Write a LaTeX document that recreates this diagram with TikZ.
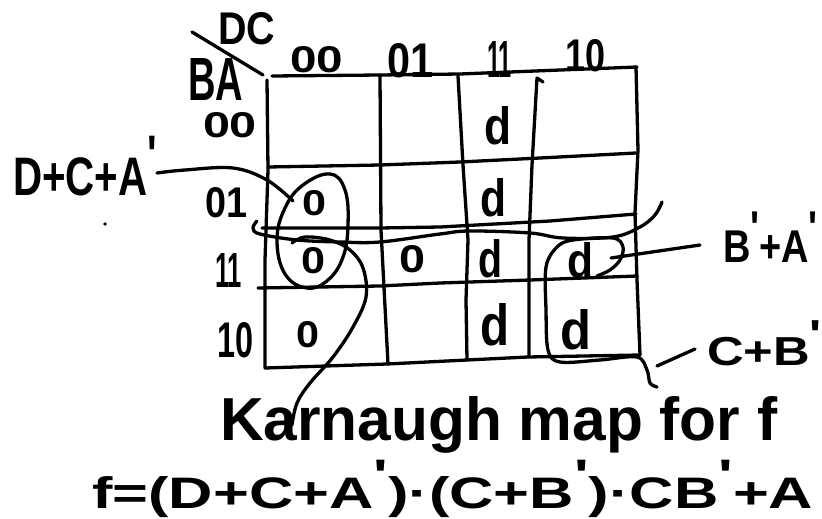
\documentclass[tikz,border=0pt]{standalone}
\usepackage{fontspec}
\usepackage{graphicx}
\newfontfamily\hwfont{Liberation Sans}
\newcommand{\hw}[3]{\resizebox{#1pt}{#2pt}{\hwfont\bfseries #3}}
\newcommand{\pr}{\raisebox{0.4em}{\textquotesingle}}
\tikzset{
  ink/.style={line width=3.3pt, line cap=round, line join=round, draw=black},
  lab/.style={inner sep=0pt, outer sep=0pt, anchor=base west},
  cell/.style={inner sep=0pt, outer sep=0pt, anchor=center}
}
\begin{document}
\begin{tikzpicture}[x=1pt,y=-1pt]
\fill[white] (0,0) rectangle (822,519);
\useasboundingbox (0,0) rectangle (822,519);

% grid
\draw[ink] (272,76) -- (380,75) -- (460,74) -- (535,71) -- (637,67);
\draw[ink] (268,167) -- (380,165) -- (460,162) -- (540,158) -- (636,153);
\draw[ink] (262,228) -- (380,228) -- (440,227) -- (550,221) -- (636,214);
\draw[ink] (258,288) -- (380,286) -- (440,283) -- (530,280) -- (637,276);
\draw[ink] (265,368) -- (387,364) -- (467,360) -- (528,357) -- (640,355);
\draw[ink] (267,80) -- (268,170) -- (265,260) -- (265,368);
\draw[ink] (380,75) -- (381,230) -- (388,364);
\draw[ink] (458,76) -- (463,165) -- (468,240) -- (466,300) -- (467,360);
\draw[ink] (543,82) -- (537,78) -- (532,165) -- (529,240) -- (529,357);
\draw[ink] (636,67) -- (638,150) -- (635,213) -- (637,280) -- (640,355);
\draw[ink] (192,32) -- (263,75);
\fill (105,224) circle (1.8);

% headers
\node[lab] (dc) at (218,45) {\hw{57}{32}{DC}};
\node[lab] (ba) at (188,100) {\hw{55}{42}{BA}};
\node[lab] (c00) at (290,73) {\hw{53}{26}{00}};
\node[lab] (c01) at (387,77) {\hw{46}{34}{01}};
\node[lab] (c11) at (487,78) {\hw{25}{36}{11}};
\node[lab] (c10) at (565,72) {\hw{40}{32}{10}};
\node[lab] (r00) at (203,137) {\hw{54}{25}{00}};
\node[lab] (r01) at (205,217) {\hw{42}{30}{01}};
\node[lab] (r11) at (215,287) {\hw{27}{34}{11}};
\node[lab] (r10) at (217,357) {\hw{36}{35}{10}};

% cells
\node[cell] (d1) at (498,126) {\hw{27}{38}{d}};
\node[cell] (z1) at (314,203) {\hw{24}{25}{0}};
\node[cell] (d2) at (493,198) {\hw{26}{38}{d}};
\node[cell] (z2) at (313,261) {\hw{24}{26}{0}};
\node[cell] (z3) at (412,259) {\hw{26}{27}{0}};
\node[cell] (d3) at (490,259) {\hw{24}{38}{d}};
\node[cell] (d4) at (580,260) {\hw{26}{35}{d}};
\node[cell] (z4) at (308,335) {\hw{23}{26}{0}};
\node[cell] (d5) at (495,325) {\hw{29}{42}{d}};
\node[cell] (d6) at (576,330) {\hw{31}{40}{d}};

% loops
\draw[ink] plot[smooth cycle, tension=0.7] coordinates {(330,174) (345,190) (348,225) (343,257) (328,280) (307,288) (285,274) (277,240) (285,208) (303,185)};
\draw[ink] plot[smooth, tension=0.6] coordinates {(292,243) (305,237) (330,240) (350,250) (363,268) (366,297) (353,327) (333,357) (310,383) (297,403) (292,425)};
\draw[ink] plot[smooth, tension=0.6] coordinates {(257,221) (253,228) (260,234) (297,240) (340,242) (380,242) (440,234) (470,231) (530,233) (563,238) (613,237) (640,227) (655,215) (662,202)};
\draw[ink] plot[smooth, tension=0.55] coordinates {(597,276) (610,270) (620,260) (623,247) (613,238) (573,240) (557,247) (546,267) (546,310) (548,350) (560,362) (600,360) (637,357) (647,370) (650,383) (657,387)};

% labels
\node[lab] (dca) at (13,195) {\hw{144}{59}{D+C+A\pr}};
\node[lab] (bpa) at (723,262) {\hw{95}{50}{B\pr+A\pr}};
\node[lab] (cb) at (707,365) {\hw{115}{44}{C+B\pr}};
\node[lab] (title) at (220,440) {\hw{557}{44}{Karnaugh map for f}};
\node[lab] (formula) at (92,508) {\hw{721}{48}{f=(D+C+A\pr)·(C+B\pr)·CB\pr+A}};

% connectors
\coordinate (dcaEnd) at (293,201);
\coordinate (bpaEnd) at (611,258);
\coordinate (cbFree) at (657,366);
\draw[ink] plot[smooth, tension=0.6] coordinates {([yshift=22pt]dca.base east) (185,170) (233,168) (267,180) (dcaEnd)};
\draw[ink] (bpaEnd) -- ([xshift=-23pt,yshift=17pt]bpa.base west);
\draw[ink] (cbFree) -- ([xshift=-12pt,yshift=16pt]cb.base west);
\end{tikzpicture}
\end{document}
